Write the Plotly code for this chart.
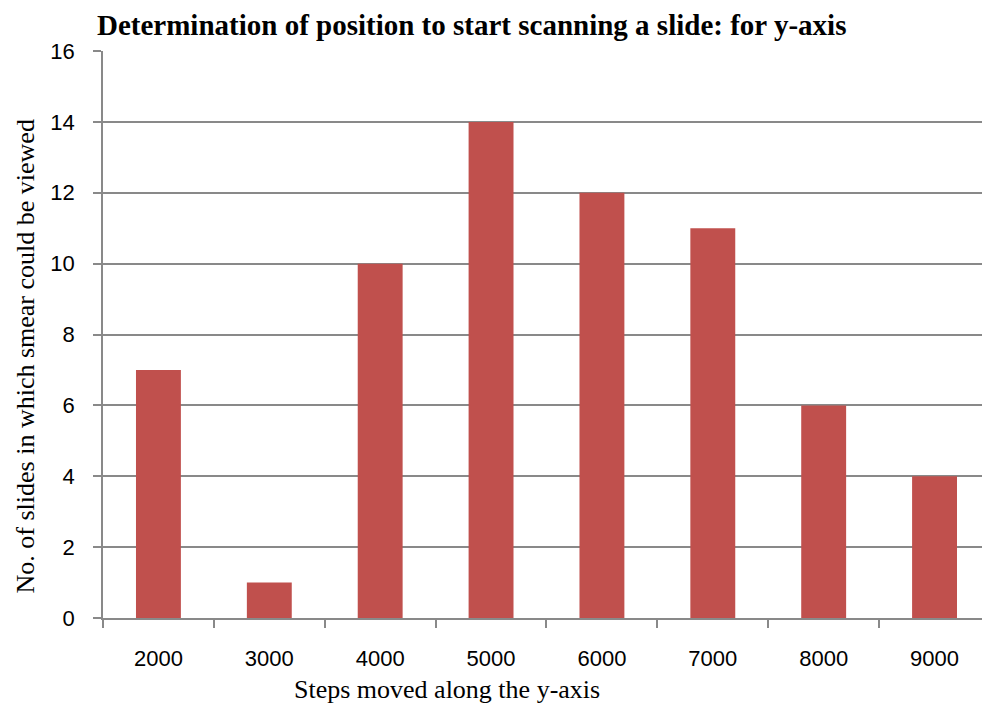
import plotly.graph_objects as go

# Steps moved along the y-axis and number of slides where the smear was visible
steps = ["2000", "3000", "4000", "5000", "6000", "7000", "8000", "9000"]
slides_viewed = [7, 1, 10, 14, 12, 11, 6, 4]
y_ticks = [0, 2, 4, 6, 8, 10, 12, 14, 16]

bar_color = "#C0504D"
axis_gray = "#898989"
serif = "Liberation Serif, Times New Roman, serif"
sans = "Liberation Sans, Arial, sans-serif"

fig = go.Figure(
    go.Bar(
        x=steps,
        y=slides_viewed,
        marker=dict(color=bar_color, line=dict(width=0)),
    )
)

fig.update_layout(
    width=982,
    height=704,
    margin=dict(l=103, r=0, t=51, b=86),
    paper_bgcolor="white",
    plot_bgcolor="white",
    bargap=0.595,
    showlegend=False,
    annotations=[
        dict(
            text="<b>Determination of position to start scanning a slide: for y-axis</b>",
            xref="paper", yref="paper", x=-0.009, y=1.0, yshift=8,
            xanchor="left", yanchor="bottom", showarrow=False,
            font=dict(family=serif, size=29, color="black"),
        ),
        dict(
            text="Steps moved along the y-axis",
            xref="paper", yref="paper", x=0.391, y=0, yshift=-55,
            xanchor="center", yanchor="top", showarrow=False,
            font=dict(family=serif, size=26, color="black"),
        ),
        dict(
            text="No. of slides in which smear could be viewed",
            xref="paper", yref="paper", x=0, xshift=-78, y=0.5, yshift=-22,
            xanchor="center", yanchor="middle", textangle=-90, showarrow=False,
            font=dict(family=serif, size=26, color="black"),
        ),
    ],
)

fig.update_xaxes(
    type="category",
    range=[-0.5, 7.428],
    showgrid=False,
    showline=True,
    linecolor=axis_gray,
    linewidth=1.5,
    ticks="outside",
    tickson="boundaries",
    ticklen=8,
    tickcolor=axis_gray,
    tickwidth=1.5,
    ticklabelstandoff=20,
    tickfont=dict(family=sans, size=22, color="black"),
)

fig.update_yaxes(
    range=[0, 16],
    tickvals=y_ticks,
    showgrid=True,
    gridcolor=axis_gray,
    gridwidth=1.5,
    showline=True,
    linecolor=axis_gray,
    linewidth=1.5,
    ticks="outside",
    ticklen=8,
    tickcolor=axis_gray,
    tickwidth=1.5,
    ticklabelstandoff=14,
    tickfont=dict(family=sans, size=22, color="black"),
    zeroline=False,
)

fig.write_html("out.html")
